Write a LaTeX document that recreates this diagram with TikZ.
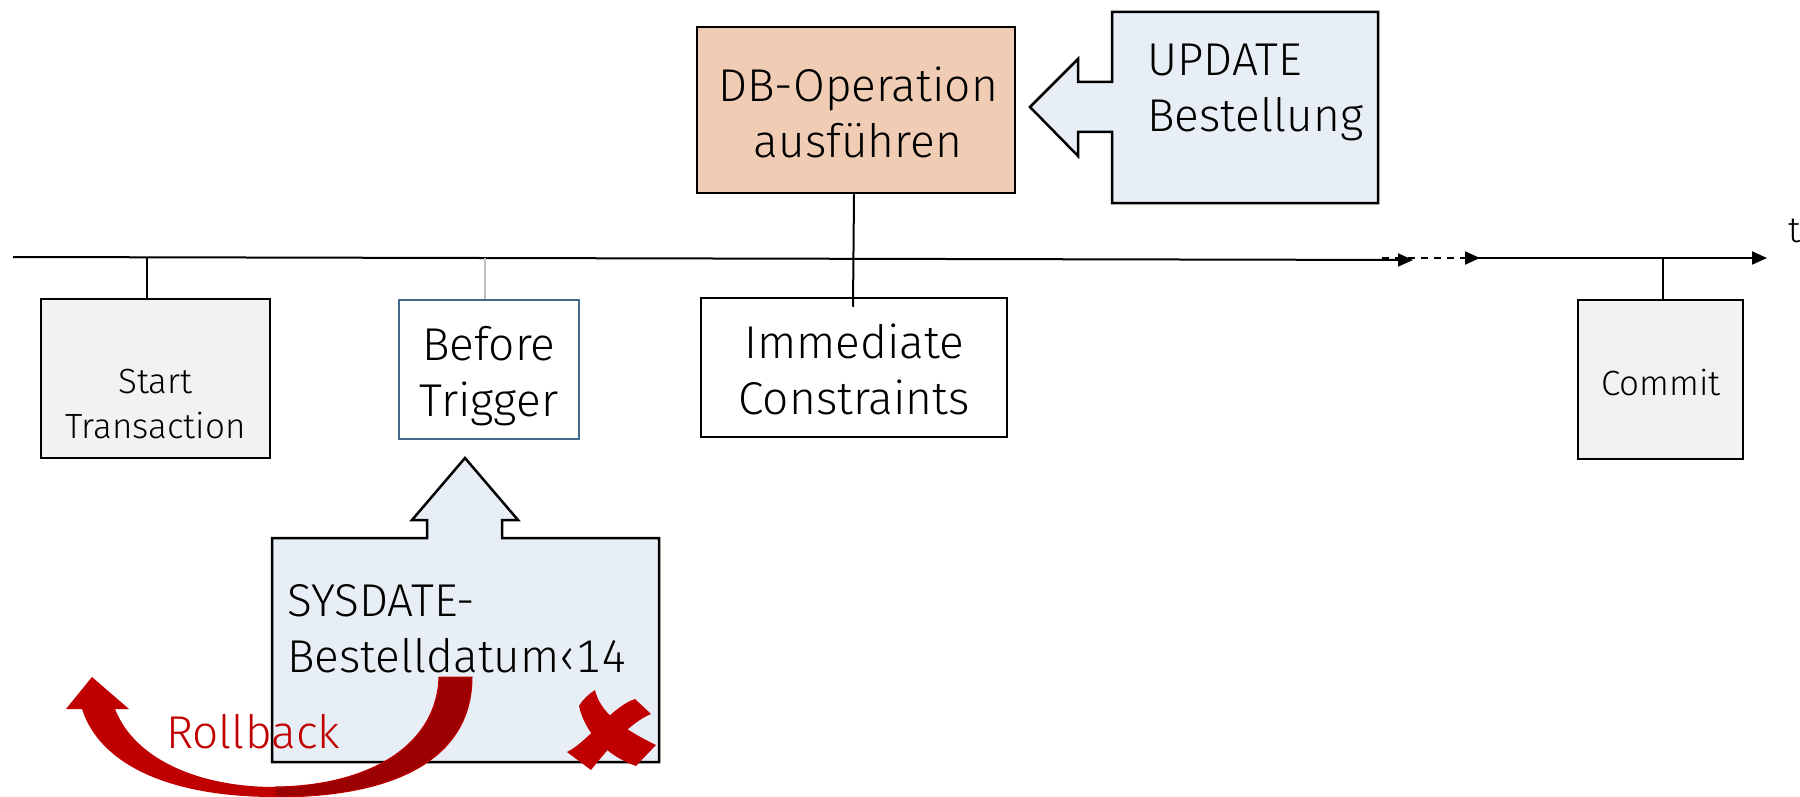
\documentclass[tikz,border=0pt]{standalone}
\usepackage{fontspec}
\setmainfont{Fira Sans Light}[Numbers=Monospaced]
\usetikzlibrary{arrows.meta}

\definecolor{peach}{HTML}{F0CCB4}
\definecolor{paleblue}{HTML}{E8EEF5}
\definecolor{palegray}{HTML}{F2F2F2}
\definecolor{trigblue}{HTML}{41698C}
\definecolor{rbred}{HTML}{C00000}
\definecolor{rbdark}{HTML}{9C0000}
\newcommand{\fsz}[2]{\fontsize{#1}{#2}\selectfont}

\begin{document}
\begin{tikzpicture}[x=1pt,y=-1pt,
  box/.style={draw=black, line width=2.5pt, inner sep=0pt, anchor=center},
  bigtxt/.style={inner sep=0pt, align=center, font=\fsz{46}{56}},
  smalltxt/.style={inner sep=0pt, align=center, font=\fsz{35}{45}},
  axis/.style={line width=2pt, -{Triangle[length=15pt,width=13pt]}},
  tick/.style={line width=2pt},
  callout/.style={draw=black, line width=2.5pt, fill=paleblue, line join=miter}]

\useasboundingbox (0,0) rectangle (1800,797);

% time axis
\coordinate (t0) at (13,257);
\coordinate (t1) at (1413,260);
\coordinate (d0) at (1382,258);
\coordinate (t2) at (1480,258);
\coordinate (s0) at (1475,258);
\coordinate (t3) at (1767,258);
\draw[axis] (t0) -- (t1);
\draw[axis, dashed, dash pattern=on 7pt off 6pt] (d0) -- (t2);
\draw[axis] (s0) -- (t3);
\node[inner sep=0pt, anchor=west, font=\fsz{36}{44}] (tlab) at (1788,234) {t\strut};

% boxes
\node[box, fill=palegray, minimum width=229pt, minimum height=159pt] (st) at (155.5,378.5) {};
\node[box, draw=trigblue, line width=2pt, fill=white, minimum width=180pt, minimum height=139pt] (bt) at (489,369.5) {};
\node[box, fill=white, minimum width=306pt, minimum height=139pt] (imm) at (854,367.5) {};
\node[box, fill=peach, minimum width=318pt, minimum height=166pt] (db) at (856,110) {};
\node[box, fill=palegray, minimum width=165pt, minimum height=159pt] (cm) at (1660.5,379.5) {};

% box texts
\node[smalltxt] at (155.5,406.5) {Start\strut\\Transaction\strut};
\node[bigtxt] at (489,376.8) {Before\strut\\Trigger\strut};
\node[bigtxt] at (854,374.8) {Immediate\strut\\Constraints\strut};
\node[bigtxt] at (858,118.8) {DB-Operation\strut\\ausführen\strut};
\node[smalltxt] at (1661,386) {Commit\strut};

% ties from the axis to the boxes
\draw[tick] (147,257) -- ([xshift=-8.5pt]st.north);
\draw[line width=2pt, draw=black!25] (485,258) -- ([xshift=-4pt]bt.north);
\draw[tick] ([xshift=-2pt]db.south) -- ([xshift=-1pt,yshift=-10pt]imm.north);
\draw[tick] (1663,258) -- ([xshift=2.5pt]cm.north);

% UPDATE callout pointing at the DB operation
\draw[callout] (1112,12) -- (1378,12) -- (1378,203) -- (1112,203) -- (1112,132)
  -- (1078,132) -- (1078,156) -- (1030,107) -- (1078,59) -- (1078,82) -- (1112,82) -- cycle;
\node[bigtxt, align=left, anchor=west] (upd) at (1147,92.8) {UPDATE\strut\\Bestellung\strut};

% SYSDATE callout pointing up at the trigger
\draw[callout] (272,538) -- (427,538) -- (427,520) -- (412,520) -- (465,458) -- (518,520)
  -- (502,520) -- (502,538) -- (659,538) -- (659,762) -- (272,762) -- cycle;
\node[bigtxt, align=left, anchor=west] (cond) at (287,632.8) {SYSDATE-\strut\\Bestelldatum‹14\strut};

% rollback arrow
\fill[rbred] (66,709) -- (92,677) -- (129,709) -- (115,709)
  .. controls (135,760) and (200,787) .. (275,787)
  -- (275,797) .. controls (170,797) and (100,765) .. (82,709) -- cycle;
\filldraw[fill=rbdark, draw=rbred, line width=1pt] (275,787)
  .. controls (370,786) and (437,745) .. (439,677)
  -- (472,677) .. controls (472,750) and (410,797) .. (275,797) -- cycle;
\node[inner sep=0pt, anchor=west, font=\fsz{46}{56}, text=rbred] (rb) at (166,736.8) {Rollback\strut};

% red cross
\fill[rbred] (579,706) .. controls (583,699) and (589,694) .. (595,690)
  .. controls (600,712) and (621,728) .. (656,745)
  -- (636,766) .. controls (607,756) and (585,733) .. (579,706) -- cycle;
\fill[rbred] (635,699) -- (651,714)
  .. controls (629,723) and (608,749) .. (591,770)
  -- (567,752) .. controls (589,741) and (611,707) .. (635,699) -- cycle;
\end{tikzpicture}
\end{document}
